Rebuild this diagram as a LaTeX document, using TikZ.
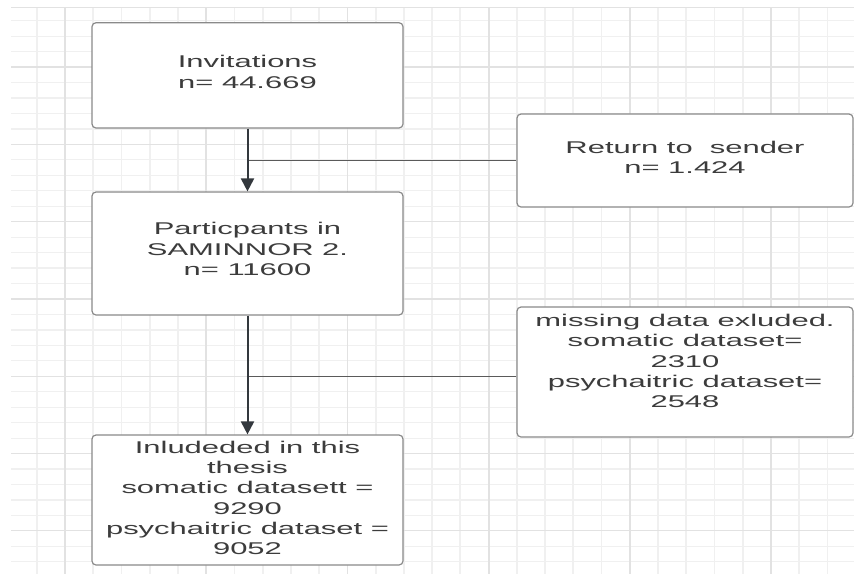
\documentclass[tikz,border=0pt]{standalone}
\usepackage{fontspec}
\newfontfamily\boxfont[FakeStretch=1.82]{Liberation Sans}
\usetikzlibrary{arrows.meta}
\definecolor{gridminor}{HTML}{F0F0F0}
\definecolor{gridmajor}{HTML}{E2E2E2}
\definecolor{boxline}{HTML}{8A8A8A}
\definecolor{txt}{HTML}{3C3C3C}
\definecolor{arrowc}{HTML}{33383D}
\definecolor{branchc}{HTML}{5A5A5A}
\tikzset{
  box/.style={draw=boxline, line width=1.2pt, rounded corners=4pt, fill=white, rectangle, inner sep=0pt},
  boxtext/.style={text=txt, align=center, inner sep=0pt, font=\boxfont\fontsize{17}{20.3}\selectfont},
  mainarrow/.style={draw=arrowc, line width=2pt, -{Triangle[width=13pt,length=13pt]}},
  branch/.style={draw=branchc, line width=0.9pt}
}
\begin{document}
\begin{tikzpicture}[x=1pt,y=-1pt]
\useasboundingbox (0,0) rectangle (854,574);
\fill[white] (0,0) rectangle (854,574);
% grid
\foreach \k in {0,...,35}{
  \pgfmathsetmacro{\yy}{20.7+\k*15.46}
  \draw[gridminor, line width=1.2pt] (11,\yy) -- (854,\yy);
}
\foreach \k in {-1,...,27}{
  \pgfmathsetmacro{\xx}{65+\k*28.24}
  \draw[gridminor, line width=1.8pt] (\xx,7.7) -- (\xx,574);
}
\foreach \k in {0,...,6}{
  \pgfmathsetmacro{\yy}{20.7+(3+5*\k)*15.46}
  \draw[gridmajor, line width=1.2pt] (11,\yy) -- (854,\yy);
}
\foreach \k in {0,...,5}{
  \pgfmathsetmacro{\xx}{65+5*\k*28.24}
  \draw[gridmajor, line width=1.8pt] (\xx,7.7) -- (\xx,574);
}
\draw[gridmajor, line width=1.2pt] (11,7.7) -- (854,7.7);
% boxes
\node[box, minimum width=311pt, minimum height=105.3pt] (inv) at (247.5,75.35) {};
\node[box, minimum width=311pt, minimum height=123pt] (part) at (247.5,253.5) {};
\node[box, minimum width=336pt, minimum height=93pt] (ret) at (685,160.5) {};
\node[box, minimum width=336pt, minimum height=130pt] (miss) at (685,372) {};
\node[box, minimum width=311pt, minimum height=130pt] (incl) at (247.5,500) {};
% texts
\node[boxtext] (invt) at (247.5,72) {Invitations\\n= 44.669};
\node[boxtext] (partt) at (247.5,249) {Particpants in\\SAMINNOR 2.\\n= 11600};
\node[boxtext] (rett) at (685,157) {Return to\ \ sender\\n= 1.424};
\node[boxtext] (misst) at (685,361) {missing data exluded.\\somatic dataset=\\2310\\psychaitric dataset=\\2548};
\node[boxtext] (inclt) at (247.5,498) {Inludeded in this\\thesis\\somatic datasett =\\9290\\psychaitric dataset =\\9052};
% connectors
\coordinate (b1) at (247.5,160.5);
\coordinate (b2) at (247.5,376);
\draw[branch] (b1) -- (ret.west);
\draw[branch] (b2) -- (miss.west |- b2);
\draw[mainarrow] (inv.south) -- (part.north);
\draw[mainarrow] (part.south) -- (incl.north);
\end{tikzpicture}
\end{document}
